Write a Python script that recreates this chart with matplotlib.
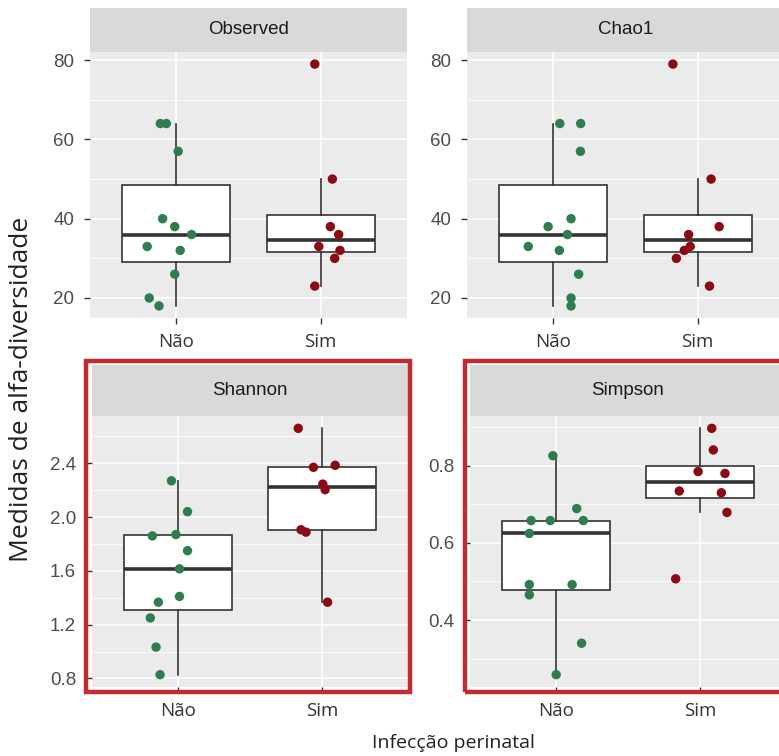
import matplotlib
matplotlib.use("Agg")
import matplotlib.pyplot as plt
import numpy as np
from matplotlib.ticker import MultipleLocator, AutoMinorLocator
from matplotlib.patches import Rectangle

# ---------------- data ----------------
groups = ["Não", "Sim"]
panels = ["Observed", "Chao1", "Shannon", "Simpson"]

observed_nao = [64, 64, 57, 40, 38, 36, 33, 32, 26, 20, 18]
observed_sim = [79, 50, 38, 36, 33, 32, 30, 23]
chao1_nao = [64, 64, 57, 40, 38, 36, 33, 32, 26, 20, 18]
chao1_sim = [79, 50, 38, 36, 33, 32, 30, 23]
shannon_nao = [2.27, 2.04, 1.86, 1.87, 1.75, 1.615, 1.41, 1.367, 1.25, 1.033, 0.828]
shannon_sim = [2.66, 2.37, 2.385, 2.245, 2.204, 1.906, 1.888, 1.367]
simpson_nao = [0.826, 0.689, 0.658, 0.658, 0.658, 0.6245, 0.492, 0.492, 0.4655, 0.34, 0.2585]
simpson_sim = [0.897, 0.841, 0.785, 0.78, 0.7345, 0.73, 0.679, 0.507]

# horizontal jitter of each point (category units)
observed_nao_jit = [-0.112, -0.07, 0.012, -0.096, -0.012, 0.105, -0.203, 0.026, -0.012, -0.189, -0.121]
observed_sim_jit = [-0.04, 0.082, 0.068, 0.126, -0.012, 0.135, 0.098, -0.04]
chao1_nao_jit = [0.044, 0.189, 0.187, 0.122, -0.037, 0.097, -0.175, 0.041, 0.175, 0.122, 0.122]
chao1_sim_jit = [-0.171, 0.094, 0.15, -0.062, -0.051, -0.092, -0.147, 0.083]
shannon_nao_jit = [-0.047, 0.065, -0.18, -0.016, 0.065, 0.009, 0.009, -0.138, -0.194, -0.154, -0.126]
shannon_sim_jit = [-0.164, -0.058, 0.093, 0.007, 0.023, -0.145, -0.11, 0.04]
simpson_nao_jit = [-0.023, 0.143, -0.175, -0.041, 0.189, -0.187, -0.187, 0.111, -0.187, 0.177, 0.0]
simpson_sim_jit = [0.083, 0.094, -0.012, 0.175, -0.143, 0.15, 0.189, -0.168]

values = {
    "Observed": (observed_nao, observed_sim),
    "Chao1": (chao1_nao, chao1_sim),
    "Shannon": (shannon_nao, shannon_sim),
    "Simpson": (simpson_nao, simpson_sim),
}
jitters = {
    "Observed": (observed_nao_jit, observed_sim_jit),
    "Chao1": (chao1_nao_jit, chao1_sim_jit),
    "Shannon": (shannon_nao_jit, shannon_sim_jit),
    "Simpson": (simpson_nao_jit, simpson_sim_jit),
}
major_step = {"Observed": 20, "Chao1": 20, "Shannon": 0.4, "Simpson": 0.2}
highlighted = ["Shannon", "Simpson"]

# ---------------- styling ----------------
W, H = 779, 756
point_colors = ["#2E7D50", "#8B0A14"]
panel_bg = "#EBEBEB"
strip_bg = "#D9D9D9"
tick_col = "#4D4D4D"
frame_col = "#C42B31"
num_font = ["Liberation Sans", "DejaVu Sans"]
lab_font = ["Open Sans", "DejaVu Sans"]
plt.rcParams["font.family"] = num_font

fig = plt.figure(figsize=(W / 100, H / 100), dpi=100)
fig.patch.set_facecolor("white")

# panel boxes in pixels: (left, top, right, bottom), strip top
layout = {
    "Observed": (90, 52, 407, 318, 8),
    "Chao1": (467, 52, 784, 318, 8),
    "Shannon": (92, 416, 408, 687, 365),
    "Simpson": (470, 416, 786, 687, 365),
}


def fbox(l, t, r, b):
    return [l / W, 1 - b / H, (r - l) / W, (b - t) / H]


for name in panels:
    l, t, r, b, st = layout[name]
    ax = fig.add_axes(fbox(l, t, r, b))
    ax.set_facecolor(panel_bg)
    for s in ax.spines.values():
        s.set_visible(False)

    nao, sim = values[name]
    jn, js = jitters[name]

    ax.boxplot([nao, sim], positions=[0, 1], widths=0.75, whis=1.5,
               showfliers=False, patch_artist=True,
               boxprops=dict(facecolor="white", edgecolor="#333333", linewidth=1.2),
               whiskerprops=dict(color="#333333", linewidth=1.2),
               capprops=dict(linewidth=0),
               medianprops=dict(color="#333333", linewidth=2.6),
               zorder=2)

    for gi, (vals, jit) in enumerate([(nao, jn), (sim, js)]):
        xs = gi + np.array(jit)
        ax.scatter(xs, vals, s=46, color=point_colors[gi], edgecolors="none", zorder=3)

    allv = np.array(nao + sim, dtype=float)
    lo, hi = allv.min(), allv.max()
    pad = 0.05 * (hi - lo)
    ax.set_ylim(lo - pad, hi + pad)
    ax.set_xlim(-0.6, 1.6)

    ax.yaxis.set_major_locator(MultipleLocator(major_step[name]))
    ax.yaxis.set_minor_locator(AutoMinorLocator(2))
    ax.set_xticks([0, 1])
    ax.set_xticklabels(groups, fontfamily=lab_font, fontsize=13.5, color="#333333")
    ax.grid(True, which="major", color="white", linewidth=1.2, zorder=0)
    ax.grid(True, which="minor", axis="y", color="white", linewidth=0.6, zorder=0)
    ax.set_axisbelow(True)

    ax.tick_params(axis="both", which="major", length=4.5, width=1.0, color="#333333")
    ax.tick_params(axis="y", which="major", labelsize=13.5, labelcolor=tick_col, pad=7)
    ax.tick_params(axis="y", which="minor", length=0)
    ax.tick_params(axis="x", pad=6)

    # facet strip
    sax = fig.add_axes(fbox(l, st, r, t))
    sax.set_facecolor(strip_bg)
    sax.set_xticks([])
    sax.set_yticks([])
    for s in sax.spines.values():
        s.set_visible(False)
    sax.text(0.5, 0.5, name, ha="center", va="center", fontsize=13.5,
             family=num_font, color="#1A1A1A", transform=sax.transAxes)

# red highlight frames around the lower panels
frames = {"Shannon": (86, 361, 410, 692), "Simpson": (465, 361, 795, 692)}
for name in highlighted:
    l, t, r, b = frames[name]
    fig.patches.append(Rectangle((l / W, 1 - b / H), (r - l) / W, (b - t) / H,
                                 transform=fig.transFigure, fill=False,
                                 edgecolor=frame_col, linewidth=3.2, zorder=10))

fig.text(453 / W, 1 - 743 / H, "Infecção perinatal", ha="center", va="center",
         fontsize=14, family=lab_font, color="#222222")
fig.text(22 / W, 1 - 389 / H, "Medidas de alfa-diversidade", ha="center", va="center",
         rotation=90, fontsize=19, family=lab_font, color="#222222")

fig.savefig("out.png", dpi=100, facecolor="white")
